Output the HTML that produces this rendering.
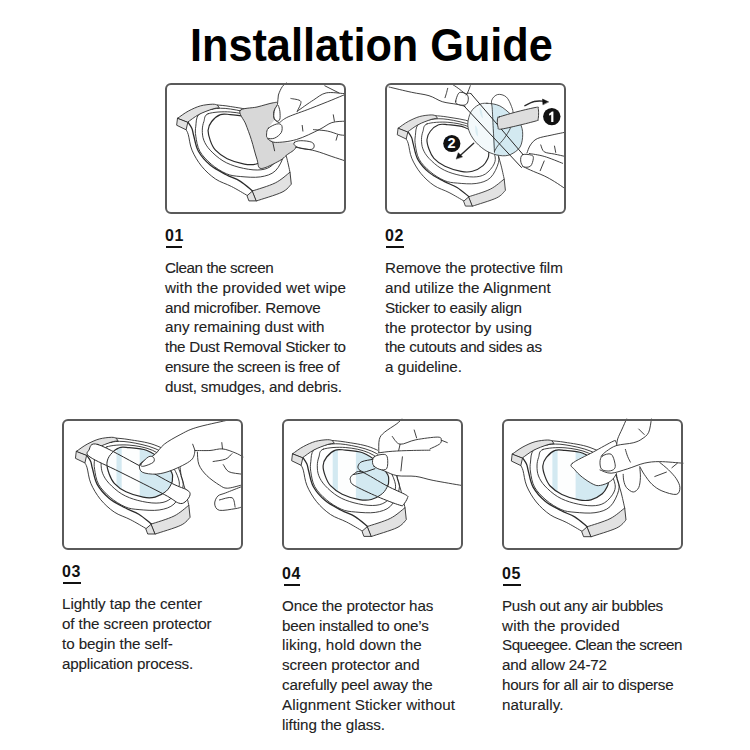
<!DOCTYPE html>
<html><head><meta charset="utf-8">
<style>
html,body{margin:0;padding:0;background:#fff;}
body{width:750px;height:750px;position:relative;overflow:hidden;font-family:"Liberation Sans",sans-serif;}
.title{position:absolute;left:190px;top:22px;font-size:46px;font-weight:bold;line-height:46px;white-space:nowrap;color:#000;transform:scaleX(0.94);transform-origin:0 0;}
.box{position:absolute;z-index:2;width:181px;height:131px;box-sizing:border-box;border:2px solid #5a5a5a;border-radius:6px;}
.num{position:absolute;font-size:16px;font-weight:bold;line-height:16px;color:#111;letter-spacing:0.5px;white-space:nowrap;}
.ul{position:absolute;height:2px;background:#111;}
.txt{position:absolute;font-size:15.2px;line-height:19.8px;color:#222;white-space:nowrap;-webkit-text-stroke:0.1px #222;}
svg.art{position:absolute;left:0;top:0;z-index:1;}
</style></head><body>
<div class="title">Installation Guide</div>

<div class="box" style="left:165px;top:83px"></div>
<div class="box" style="left:385px;top:83px"></div>
<div class="box" style="left:62px;top:419px"></div>
<div class="box" style="left:282px;top:419px"></div>
<div class="box" style="left:502px;top:419px"></div>

<div class="num" style="left:165px;top:228px">01</div>
<div class="ul" style="left:166px;top:246px;width:16px"></div>
<div class="num" style="left:385px;top:228px">02</div>
<div class="ul" style="left:386px;top:246px;width:17.5px"></div>
<div class="num" style="left:62px;top:564px">03</div>
<div class="ul" style="left:63px;top:581.5px;width:17.5px"></div>
<div class="num" style="left:282px;top:565.5px">04</div>
<div class="ul" style="left:283.5px;top:584px;width:16.5px"></div>
<div class="num" style="left:502px;top:565.5px">05</div>
<div class="ul" style="left:503px;top:584px;width:18px"></div>

<div class="txt" style="left:165px;top:258.03px"><span style="letter-spacing:-0.413px">Clean the screen</span><br><span style="letter-spacing:0.112px">with the provided wet wipe</span><br><span style="letter-spacing:-0.219px">and microfiber. Remove</span><br><span style="letter-spacing:-0.005px">any remaining dust with</span><br><span style="letter-spacing:-0.277px">the Dust Removal Sticker to</span><br><span style="letter-spacing:-0.348px">ensure the screen is free of</span><br><span style="letter-spacing:-0.220px">dust, smudges, and debris.</span></div>
<div class="txt" style="left:385px;top:258.13px"><span style="letter-spacing:-0.080px">Remove the protective film</span><br><span style="letter-spacing:0.050px">and utilize the Alignment</span><br><span style="letter-spacing:-0.264px">Sticker to easily align</span><br><span style="letter-spacing:0.038px">the protector by using</span><br><span style="letter-spacing:-0.291px">the cutouts and sides as</span><br><span style="letter-spacing:-0.073px">a guideline.</span></div>
<div class="txt" style="left:62px;top:594.23px"><span style="letter-spacing:-0.048px">Lightly tap the center</span><br><span style="letter-spacing:-0.105px">of the screen protector</span><br><span style="letter-spacing:-0.082px">to begin the self-</span><br><span style="letter-spacing:-0.158px">application process.</span></div>
<div class="txt" style="left:282px;top:595.73px"><span style="letter-spacing:-0.152px">Once the protector has</span><br><span style="letter-spacing:-0.182px">been installed to one’s</span><br><span style="letter-spacing:0.100px">liking, hold down the</span><br><span style="letter-spacing:-0.089px">screen protector and</span><br><span style="letter-spacing:-0.173px">carefully peel away the</span><br><span style="letter-spacing:0.104px">Alignment Sticker without</span><br><span style="letter-spacing:-0.100px">lifting the glass.</span></div>
<div class="txt" style="left:502px;top:595.83px"><span style="letter-spacing:-0.261px">Push out any air bubbles</span><br><span style="letter-spacing:0.175px">with the provided</span><br><span style="letter-spacing:-0.480px">Squeegee. Clean the screen</span><br><span style="letter-spacing:-0.157px">and allow 24-72</span><br><span style="letter-spacing:-0.261px">hours for all air to disperse</span><br><span style="letter-spacing:0.111px">naturally.</span></div>

<svg class="art" width="750" height="750" viewBox="0 0 750 750" fill="none" stroke="#2b2b2b" stroke-width="0.9" stroke-linejoin="round" stroke-linecap="round">
<g transform="translate(-84.9,-300) scale(0.943)">
<path d="M512.6 453.9C514.5 451.5 519.2 448.9 523.0 446.9C526.8 444.9 531.1 442.8 535.1 441.7C539.1 440.6 544.5 440.1 547.3 440.0C550.1 439.9 549.0 440.4 552.0 440.8C555.0 441.2 558.7 441.2 565.0 442.3C571.3 443.4 582.2 444.6 590.0 447.5C597.8 450.4 607.5 454.9 612.0 460.0C616.5 465.1 615.5 472.7 617.0 478.0C618.5 483.3 619.7 487.0 621.0 492.0C622.3 497.0 623.9 503.3 624.7 508.0C625.5 512.7 627.3 516.7 626.0 520.0C624.7 523.3 622.5 525.2 616.7 528.0C610.9 530.8 596.8 535.2 591.3 536.7C585.8 538.2 585.5 537.6 584.0 536.7C582.5 535.8 585.0 533.7 582.0 531.3C579.0 528.9 571.5 525.0 566.2 522.3C560.9 519.5 555.2 518.2 550.2 514.8C545.2 511.4 540.2 506.8 536.3 502.0C532.4 497.2 528.9 491.2 526.7 486.0C524.5 480.8 524.0 473.9 523.0 470.5C522.0 467.1 522.7 467.2 520.8 465.6C518.9 464.1 513.1 463.1 511.7 461.2C510.3 459.2 510.7 456.3 512.6 453.9Z" fill="#fff" stroke="none"/>
<path d="M555.1 450.4C558.2 449.2 560.5 450.0 565.0 450.4C569.5 450.8 576.8 450.9 582.3 453.0C587.8 455.1 593.8 459.3 598.0 463.0C602.2 466.7 605.8 471.9 607.5 475.0C609.2 478.1 608.3 479.8 608.3 481.6C608.3 483.4 608.5 483.9 607.5 485.9C606.5 487.9 605.0 491.4 602.3 493.7C599.5 496.0 594.9 498.8 591.0 499.8C587.1 500.8 583.9 500.8 579.0 499.9C574.1 499.0 566.7 496.8 561.9 494.5C557.1 492.2 553.0 489.0 550.2 486.0C547.4 483.0 546.2 479.7 545.0 476.4C543.8 473.1 542.6 469.2 542.8 466.0C543.0 462.8 544.3 459.9 546.4 457.3C548.5 454.7 552.0 451.5 555.1 450.4Z" stroke-width="1.2"/>
<path d="M542.9 449.5C547.3 447.9 557.4 447.2 565.0 447.8C572.6 448.4 581.6 450.0 588.4 453.0C595.2 456.0 601.7 461.2 606.0 466.0C610.3 470.8 613.1 477.3 614.4 481.6C615.7 485.9 615.6 488.5 614.0 492.0C612.4 495.5 608.4 500.4 604.7 502.7C601.0 505.0 597.2 505.7 592.0 505.8C586.8 505.9 579.4 504.6 573.7 503.1C568.0 501.6 562.5 499.6 557.7 496.7C552.9 493.8 548.1 489.4 544.9 486.0C541.7 482.6 539.8 479.3 538.5 476.0C537.2 472.7 537.0 469.1 537.0 466.0C537.0 462.9 537.6 460.1 538.6 457.3C539.6 454.6 538.5 451.1 542.9 449.5Z"/>
<path d="M547.3 444.8C552.6 443.9 557.7 443.7 565.0 444.8C572.3 445.9 583.5 448.1 591.0 451.3C598.5 454.5 605.7 459.5 610.0 464.0C614.3 468.5 615.5 473.7 617.0 478.1C618.5 482.5 619.9 485.5 618.7 490.3C617.5 495.1 614.0 503.0 610.0 506.7C606.0 510.4 600.8 511.8 595.0 512.7C589.2 513.6 580.7 512.8 575.0 512.3C569.3 511.8 565.8 511.6 561.0 509.5C556.2 507.4 550.4 503.8 546.0 500.0C541.6 496.2 537.1 491.7 534.5 487.0C531.9 482.3 531.2 476.2 530.5 472.0C529.8 467.8 530.0 465.6 530.5 462.0C531.0 458.4 530.6 453.3 533.4 450.4C536.2 447.5 542.0 445.7 547.3 444.8Z"/>
<path d="M552.0 440.8C554.2 441.1 558.7 441.2 565.0 442.3C571.3 443.4 582.2 444.6 590.0 447.5C597.8 450.4 607.5 454.9 612.0 460.0C616.5 465.1 616.2 475.0 617.0 478.0"/>
<path d="M617.0 479.0C617.7 481.2 619.7 487.2 621.0 492.0C622.3 496.8 624.1 505.3 624.7 508.0"/>
<path d="M520.8 465.6C521.2 466.4 522.0 467.1 523.0 470.5C524.0 473.9 524.5 480.8 526.7 486.0C528.9 491.2 532.4 497.2 536.3 502.0C540.2 506.8 545.2 511.4 550.2 514.8C555.2 518.2 560.9 519.5 566.2 522.3C571.5 525.0 579.4 529.8 582.0 531.3"/>
<path d="M522.6 457.8C523.2 458.8 525.5 461.8 526.5 464.0C527.5 466.2 527.2 467.1 528.3 471.0C529.4 474.9 530.3 482.1 533.1 487.1C535.9 492.1 540.3 497.0 544.9 500.9C549.5 504.8 555.9 507.8 560.9 510.5C565.9 513.2 570.3 514.2 574.7 516.9C579.1 519.6 585.2 525.1 587.3 526.7" stroke-width="1.3"/>
<path d="M512.6 453.9L522.6 457.8L520.8 465.6L511.7 461.2Z" fill="#e2e2e2"/>
<path d="M512.6 453.9C514.3 452.7 519.2 448.9 523.0 446.9C526.8 444.9 531.1 442.8 535.1 441.7C539.1 440.6 544.5 440.1 547.3 440.0C550.1 439.9 551.2 440.7 552.0 440.8L554.0 443.6C552.9 443.8 550.7 443.7 547.3 444.8C543.9 445.9 537.5 448.2 533.4 450.4C529.3 452.6 524.4 456.6 522.6 457.8Z" fill="#e2e2e2"/>
<path d="M582.0 531.3L587.3 526.7L591.3 536.7L584.0 536.7Z" fill="#e2e2e2"/>
<path d="M587.3 526.7C591.1 525.4 603.8 521.8 610.0 518.7C616.2 515.6 622.2 509.8 624.7 508.0L626.0 520.0C624.5 521.3 622.5 525.2 616.7 528.0C610.9 530.8 595.5 535.2 591.3 536.7Z" fill="#e2e2e2"/>
</g>
<g transform="translate(-334.7,-335.8)">
<path d="M512.6 453.9C514.5 451.5 519.2 448.9 523.0 446.9C526.8 444.9 531.1 442.8 535.1 441.7C539.1 440.6 544.5 440.1 547.3 440.0C550.1 439.9 549.0 440.4 552.0 440.8C555.0 441.2 558.7 441.2 565.0 442.3C571.3 443.4 582.2 444.6 590.0 447.5C597.8 450.4 607.5 454.9 612.0 460.0C616.5 465.1 615.5 472.7 617.0 478.0C618.5 483.3 619.7 487.0 621.0 492.0C622.3 497.0 623.9 503.3 624.7 508.0C625.5 512.7 627.3 516.7 626.0 520.0C624.7 523.3 622.5 525.2 616.7 528.0C610.9 530.8 596.8 535.2 591.3 536.7C585.8 538.2 585.5 537.6 584.0 536.7C582.5 535.8 585.0 533.7 582.0 531.3C579.0 528.9 571.5 525.0 566.2 522.3C560.9 519.5 555.2 518.2 550.2 514.8C545.2 511.4 540.2 506.8 536.3 502.0C532.4 497.2 528.9 491.2 526.7 486.0C524.5 480.8 524.0 473.9 523.0 470.5C522.0 467.1 522.7 467.2 520.8 465.6C518.9 464.1 513.1 463.1 511.7 461.2C510.3 459.2 510.7 456.3 512.6 453.9Z" fill="#fff" stroke="none"/>
<path d="M555.1 450.4C558.2 449.2 560.5 450.0 565.0 450.4C569.5 450.8 576.8 450.9 582.3 453.0C587.8 455.1 593.8 459.3 598.0 463.0C602.2 466.7 605.8 471.9 607.5 475.0C609.2 478.1 608.3 479.8 608.3 481.6C608.3 483.4 608.5 483.9 607.5 485.9C606.5 487.9 605.0 491.4 602.3 493.7C599.5 496.0 594.9 498.8 591.0 499.8C587.1 500.8 583.9 500.8 579.0 499.9C574.1 499.0 566.7 496.8 561.9 494.5C557.1 492.2 553.0 489.0 550.2 486.0C547.4 483.0 546.2 479.7 545.0 476.4C543.8 473.1 542.6 469.2 542.8 466.0C543.0 462.8 544.3 459.9 546.4 457.3C548.5 454.7 552.0 451.5 555.1 450.4Z" stroke-width="1.2"/>
<path d="M542.9 449.5C547.3 447.9 557.4 447.2 565.0 447.8C572.6 448.4 581.6 450.0 588.4 453.0C595.2 456.0 601.7 461.2 606.0 466.0C610.3 470.8 613.1 477.3 614.4 481.6C615.7 485.9 615.6 488.5 614.0 492.0C612.4 495.5 608.4 500.4 604.7 502.7C601.0 505.0 597.2 505.7 592.0 505.8C586.8 505.9 579.4 504.6 573.7 503.1C568.0 501.6 562.5 499.6 557.7 496.7C552.9 493.8 548.1 489.4 544.9 486.0C541.7 482.6 539.8 479.3 538.5 476.0C537.2 472.7 537.0 469.1 537.0 466.0C537.0 462.9 537.6 460.1 538.6 457.3C539.6 454.6 538.5 451.1 542.9 449.5Z"/>
<path d="M547.3 444.8C552.6 443.9 557.7 443.7 565.0 444.8C572.3 445.9 583.5 448.1 591.0 451.3C598.5 454.5 605.7 459.5 610.0 464.0C614.3 468.5 615.5 473.7 617.0 478.1C618.5 482.5 619.9 485.5 618.7 490.3C617.5 495.1 614.0 503.0 610.0 506.7C606.0 510.4 600.8 511.8 595.0 512.7C589.2 513.6 580.7 512.8 575.0 512.3C569.3 511.8 565.8 511.6 561.0 509.5C556.2 507.4 550.4 503.8 546.0 500.0C541.6 496.2 537.1 491.7 534.5 487.0C531.9 482.3 531.2 476.2 530.5 472.0C529.8 467.8 530.0 465.6 530.5 462.0C531.0 458.4 530.6 453.3 533.4 450.4C536.2 447.5 542.0 445.7 547.3 444.8Z"/>
<path d="M552.0 440.8C554.2 441.1 558.7 441.2 565.0 442.3C571.3 443.4 582.2 444.6 590.0 447.5C597.8 450.4 607.5 454.9 612.0 460.0C616.5 465.1 616.2 475.0 617.0 478.0"/>
<path d="M617.0 479.0C617.7 481.2 619.7 487.2 621.0 492.0C622.3 496.8 624.1 505.3 624.7 508.0"/>
<path d="M520.8 465.6C521.2 466.4 522.0 467.1 523.0 470.5C524.0 473.9 524.5 480.8 526.7 486.0C528.9 491.2 532.4 497.2 536.3 502.0C540.2 506.8 545.2 511.4 550.2 514.8C555.2 518.2 560.9 519.5 566.2 522.3C571.5 525.0 579.4 529.8 582.0 531.3"/>
<path d="M522.6 457.8C523.2 458.8 525.5 461.8 526.5 464.0C527.5 466.2 527.2 467.1 528.3 471.0C529.4 474.9 530.3 482.1 533.1 487.1C535.9 492.1 540.3 497.0 544.9 500.9C549.5 504.8 555.9 507.8 560.9 510.5C565.9 513.2 570.3 514.2 574.7 516.9C579.1 519.6 585.2 525.1 587.3 526.7" stroke-width="1.3"/>
<path d="M512.6 453.9L522.6 457.8L520.8 465.6L511.7 461.2Z" fill="#e2e2e2"/>
<path d="M512.6 453.9C514.3 452.7 519.2 448.9 523.0 446.9C526.8 444.9 531.1 442.8 535.1 441.7C539.1 440.6 544.5 440.1 547.3 440.0C550.1 439.9 551.2 440.7 552.0 440.8L554.0 443.6C552.9 443.8 550.7 443.7 547.3 444.8C543.9 445.9 537.5 448.2 533.4 450.4C529.3 452.6 524.4 456.6 522.6 457.8Z" fill="#e2e2e2"/>
<path d="M582.0 531.3L587.3 526.7L591.3 536.7L584.0 536.7Z" fill="#e2e2e2"/>
<path d="M587.3 526.7C591.1 525.4 603.8 521.8 610.0 518.7C616.2 515.6 622.2 509.8 624.7 508.0L626.0 520.0C624.5 521.3 622.5 525.2 616.7 528.0C610.9 530.8 595.5 535.2 591.3 536.7Z" fill="#e2e2e2"/>
</g>
<g transform="translate(-435.9,-2.7)">
<path d="M512.6 453.9C514.5 451.5 519.2 448.9 523.0 446.9C526.8 444.9 531.1 442.8 535.1 441.7C539.1 440.6 544.5 440.1 547.3 440.0C550.1 439.9 549.0 440.4 552.0 440.8C555.0 441.2 558.7 441.2 565.0 442.3C571.3 443.4 582.2 444.6 590.0 447.5C597.8 450.4 607.5 454.9 612.0 460.0C616.5 465.1 615.5 472.7 617.0 478.0C618.5 483.3 619.7 487.0 621.0 492.0C622.3 497.0 623.9 503.3 624.7 508.0C625.5 512.7 627.3 516.7 626.0 520.0C624.7 523.3 622.5 525.2 616.7 528.0C610.9 530.8 596.8 535.2 591.3 536.7C585.8 538.2 585.5 537.6 584.0 536.7C582.5 535.8 585.0 533.7 582.0 531.3C579.0 528.9 571.5 525.0 566.2 522.3C560.9 519.5 555.2 518.2 550.2 514.8C545.2 511.4 540.2 506.8 536.3 502.0C532.4 497.2 528.9 491.2 526.7 486.0C524.5 480.8 524.0 473.9 523.0 470.5C522.0 467.1 522.7 467.2 520.8 465.6C518.9 464.1 513.1 463.1 511.7 461.2C510.3 459.2 510.7 456.3 512.6 453.9Z" fill="#fff" stroke="none"/>
<clipPath id="scr1"><path d="M555.1 450.4C558.2 449.2 560.5 450.0 565.0 450.4C569.5 450.8 576.8 450.9 582.3 453.0C587.8 455.1 593.8 459.3 598.0 463.0C602.2 466.7 605.8 471.9 607.5 475.0C609.2 478.1 608.3 479.8 608.3 481.6C608.3 483.4 608.5 483.9 607.5 485.9C606.5 487.9 605.0 491.4 602.3 493.7C599.5 496.0 594.9 498.8 591.0 499.8C587.1 500.8 583.9 500.8 579.0 499.9C574.1 499.0 566.7 496.8 561.9 494.5C557.1 492.2 553.0 489.0 550.2 486.0C547.4 483.0 546.2 479.7 545.0 476.4C543.8 473.1 542.6 469.2 542.8 466.0C543.0 462.8 544.3 459.9 546.4 457.3C548.5 454.7 552.0 451.5 555.1 450.4Z"/></clipPath><path d="M555.1 450.4C558.2 449.2 560.5 450.0 565.0 450.4C569.5 450.8 576.8 450.9 582.3 453.0C587.8 455.1 593.8 459.3 598.0 463.0C602.2 466.7 605.8 471.9 607.5 475.0C609.2 478.1 608.3 479.8 608.3 481.6C608.3 483.4 608.5 483.9 607.5 485.9C606.5 487.9 605.0 491.4 602.3 493.7C599.5 496.0 594.9 498.8 591.0 499.8C587.1 500.8 583.9 500.8 579.0 499.9C574.1 499.0 566.7 496.8 561.9 494.5C557.1 492.2 553.0 489.0 550.2 486.0C547.4 483.0 546.2 479.7 545.0 476.4C543.8 473.1 542.6 469.2 542.8 466.0C543.0 462.8 544.3 459.9 546.4 457.3C548.5 454.7 552.0 451.5 555.1 450.4Z" fill="#d3e9f1" stroke="none"/><g clip-path="url(#scr1)"><rect x="540" y="440" width="12.4" height="70" fill="#fbfdfe" stroke="none"/><rect x="557.6" y="440" width="18" height="70" fill="#fdfefe" stroke="none"/></g>
<path d="M555.1 450.4C558.2 449.2 560.5 450.0 565.0 450.4C569.5 450.8 576.8 450.9 582.3 453.0C587.8 455.1 593.8 459.3 598.0 463.0C602.2 466.7 605.8 471.9 607.5 475.0C609.2 478.1 608.3 479.8 608.3 481.6C608.3 483.4 608.5 483.9 607.5 485.9C606.5 487.9 605.0 491.4 602.3 493.7C599.5 496.0 594.9 498.8 591.0 499.8C587.1 500.8 583.9 500.8 579.0 499.9C574.1 499.0 566.7 496.8 561.9 494.5C557.1 492.2 553.0 489.0 550.2 486.0C547.4 483.0 546.2 479.7 545.0 476.4C543.8 473.1 542.6 469.2 542.8 466.0C543.0 462.8 544.3 459.9 546.4 457.3C548.5 454.7 552.0 451.5 555.1 450.4Z" stroke-width="1.2"/>
<path d="M542.9 449.5C547.3 447.9 557.4 447.2 565.0 447.8C572.6 448.4 581.6 450.0 588.4 453.0C595.2 456.0 601.7 461.2 606.0 466.0C610.3 470.8 613.1 477.3 614.4 481.6C615.7 485.9 615.6 488.5 614.0 492.0C612.4 495.5 608.4 500.4 604.7 502.7C601.0 505.0 597.2 505.7 592.0 505.8C586.8 505.9 579.4 504.6 573.7 503.1C568.0 501.6 562.5 499.6 557.7 496.7C552.9 493.8 548.1 489.4 544.9 486.0C541.7 482.6 539.8 479.3 538.5 476.0C537.2 472.7 537.0 469.1 537.0 466.0C537.0 462.9 537.6 460.1 538.6 457.3C539.6 454.6 538.5 451.1 542.9 449.5Z"/>
<path d="M547.3 444.8C552.6 443.9 557.7 443.7 565.0 444.8C572.3 445.9 583.5 448.1 591.0 451.3C598.5 454.5 605.7 459.5 610.0 464.0C614.3 468.5 615.5 473.7 617.0 478.1C618.5 482.5 619.9 485.5 618.7 490.3C617.5 495.1 614.0 503.0 610.0 506.7C606.0 510.4 600.8 511.8 595.0 512.7C589.2 513.6 580.7 512.8 575.0 512.3C569.3 511.8 565.8 511.6 561.0 509.5C556.2 507.4 550.4 503.8 546.0 500.0C541.6 496.2 537.1 491.7 534.5 487.0C531.9 482.3 531.2 476.2 530.5 472.0C529.8 467.8 530.0 465.6 530.5 462.0C531.0 458.4 530.6 453.3 533.4 450.4C536.2 447.5 542.0 445.7 547.3 444.8Z"/>
<path d="M552.0 440.8C554.2 441.1 558.7 441.2 565.0 442.3C571.3 443.4 582.2 444.6 590.0 447.5C597.8 450.4 607.5 454.9 612.0 460.0C616.5 465.1 616.2 475.0 617.0 478.0"/>
<path d="M617.0 479.0C617.7 481.2 619.7 487.2 621.0 492.0C622.3 496.8 624.1 505.3 624.7 508.0"/>
<path d="M520.8 465.6C521.2 466.4 522.0 467.1 523.0 470.5C524.0 473.9 524.5 480.8 526.7 486.0C528.9 491.2 532.4 497.2 536.3 502.0C540.2 506.8 545.2 511.4 550.2 514.8C555.2 518.2 560.9 519.5 566.2 522.3C571.5 525.0 579.4 529.8 582.0 531.3"/>
<path d="M522.6 457.8C523.2 458.8 525.5 461.8 526.5 464.0C527.5 466.2 527.2 467.1 528.3 471.0C529.4 474.9 530.3 482.1 533.1 487.1C535.9 492.1 540.3 497.0 544.9 500.9C549.5 504.8 555.9 507.8 560.9 510.5C565.9 513.2 570.3 514.2 574.7 516.9C579.1 519.6 585.2 525.1 587.3 526.7" stroke-width="1.3"/>
<path d="M512.6 453.9L522.6 457.8L520.8 465.6L511.7 461.2Z" fill="#e2e2e2"/>
<path d="M512.6 453.9C514.3 452.7 519.2 448.9 523.0 446.9C526.8 444.9 531.1 442.8 535.1 441.7C539.1 440.6 544.5 440.1 547.3 440.0C550.1 439.9 551.2 440.7 552.0 440.8L554.0 443.6C552.9 443.8 550.7 443.7 547.3 444.8C543.9 445.9 537.5 448.2 533.4 450.4C529.3 452.6 524.4 456.6 522.6 457.8Z" fill="#e2e2e2"/>
<path d="M582.0 531.3L587.3 526.7L591.3 536.7L584.0 536.7Z" fill="#e2e2e2"/>
<path d="M587.3 526.7C591.1 525.4 603.8 521.8 610.0 518.7C616.2 515.6 622.2 509.8 624.7 508.0L626.0 520.0C624.5 521.3 622.5 525.2 616.7 528.0C610.9 530.8 595.5 535.2 591.3 536.7Z" fill="#e2e2e2"/>
</g>
<g transform="translate(-219.7,-0.3)">
<path d="M512.6 453.9C514.5 451.5 519.2 448.9 523.0 446.9C526.8 444.9 531.1 442.8 535.1 441.7C539.1 440.6 544.5 440.1 547.3 440.0C550.1 439.9 549.0 440.4 552.0 440.8C555.0 441.2 558.7 441.2 565.0 442.3C571.3 443.4 582.2 444.6 590.0 447.5C597.8 450.4 607.5 454.9 612.0 460.0C616.5 465.1 615.5 472.7 617.0 478.0C618.5 483.3 619.7 487.0 621.0 492.0C622.3 497.0 623.9 503.3 624.7 508.0C625.5 512.7 627.3 516.7 626.0 520.0C624.7 523.3 622.5 525.2 616.7 528.0C610.9 530.8 596.8 535.2 591.3 536.7C585.8 538.2 585.5 537.6 584.0 536.7C582.5 535.8 585.0 533.7 582.0 531.3C579.0 528.9 571.5 525.0 566.2 522.3C560.9 519.5 555.2 518.2 550.2 514.8C545.2 511.4 540.2 506.8 536.3 502.0C532.4 497.2 528.9 491.2 526.7 486.0C524.5 480.8 524.0 473.9 523.0 470.5C522.0 467.1 522.7 467.2 520.8 465.6C518.9 464.1 513.1 463.1 511.7 461.2C510.3 459.2 510.7 456.3 512.6 453.9Z" fill="#fff" stroke="none"/>
<clipPath id="scr2"><path d="M555.1 450.4C558.2 449.2 560.5 450.0 565.0 450.4C569.5 450.8 576.8 450.9 582.3 453.0C587.8 455.1 593.8 459.3 598.0 463.0C602.2 466.7 605.8 471.9 607.5 475.0C609.2 478.1 608.3 479.8 608.3 481.6C608.3 483.4 608.5 483.9 607.5 485.9C606.5 487.9 605.0 491.4 602.3 493.7C599.5 496.0 594.9 498.8 591.0 499.8C587.1 500.8 583.9 500.8 579.0 499.9C574.1 499.0 566.7 496.8 561.9 494.5C557.1 492.2 553.0 489.0 550.2 486.0C547.4 483.0 546.2 479.7 545.0 476.4C543.8 473.1 542.6 469.2 542.8 466.0C543.0 462.8 544.3 459.9 546.4 457.3C548.5 454.7 552.0 451.5 555.1 450.4Z"/></clipPath><path d="M555.1 450.4C558.2 449.2 560.5 450.0 565.0 450.4C569.5 450.8 576.8 450.9 582.3 453.0C587.8 455.1 593.8 459.3 598.0 463.0C602.2 466.7 605.8 471.9 607.5 475.0C609.2 478.1 608.3 479.8 608.3 481.6C608.3 483.4 608.5 483.9 607.5 485.9C606.5 487.9 605.0 491.4 602.3 493.7C599.5 496.0 594.9 498.8 591.0 499.8C587.1 500.8 583.9 500.8 579.0 499.9C574.1 499.0 566.7 496.8 561.9 494.5C557.1 492.2 553.0 489.0 550.2 486.0C547.4 483.0 546.2 479.7 545.0 476.4C543.8 473.1 542.6 469.2 542.8 466.0C543.0 462.8 544.3 459.9 546.4 457.3C548.5 454.7 552.0 451.5 555.1 450.4Z" fill="#d3e9f1" stroke="none"/><g clip-path="url(#scr2)"><rect x="540" y="440" width="12.4" height="70" fill="#fbfdfe" stroke="none"/><rect x="557.6" y="440" width="18" height="70" fill="#fdfefe" stroke="none"/></g>
<path d="M555.1 450.4C558.2 449.2 560.5 450.0 565.0 450.4C569.5 450.8 576.8 450.9 582.3 453.0C587.8 455.1 593.8 459.3 598.0 463.0C602.2 466.7 605.8 471.9 607.5 475.0C609.2 478.1 608.3 479.8 608.3 481.6C608.3 483.4 608.5 483.9 607.5 485.9C606.5 487.9 605.0 491.4 602.3 493.7C599.5 496.0 594.9 498.8 591.0 499.8C587.1 500.8 583.9 500.8 579.0 499.9C574.1 499.0 566.7 496.8 561.9 494.5C557.1 492.2 553.0 489.0 550.2 486.0C547.4 483.0 546.2 479.7 545.0 476.4C543.8 473.1 542.6 469.2 542.8 466.0C543.0 462.8 544.3 459.9 546.4 457.3C548.5 454.7 552.0 451.5 555.1 450.4Z" stroke-width="1.2"/>
<path d="M542.9 449.5C547.3 447.9 557.4 447.2 565.0 447.8C572.6 448.4 581.6 450.0 588.4 453.0C595.2 456.0 601.7 461.2 606.0 466.0C610.3 470.8 613.1 477.3 614.4 481.6C615.7 485.9 615.6 488.5 614.0 492.0C612.4 495.5 608.4 500.4 604.7 502.7C601.0 505.0 597.2 505.7 592.0 505.8C586.8 505.9 579.4 504.6 573.7 503.1C568.0 501.6 562.5 499.6 557.7 496.7C552.9 493.8 548.1 489.4 544.9 486.0C541.7 482.6 539.8 479.3 538.5 476.0C537.2 472.7 537.0 469.1 537.0 466.0C537.0 462.9 537.6 460.1 538.6 457.3C539.6 454.6 538.5 451.1 542.9 449.5Z"/>
<path d="M547.3 444.8C552.6 443.9 557.7 443.7 565.0 444.8C572.3 445.9 583.5 448.1 591.0 451.3C598.5 454.5 605.7 459.5 610.0 464.0C614.3 468.5 615.5 473.7 617.0 478.1C618.5 482.5 619.9 485.5 618.7 490.3C617.5 495.1 614.0 503.0 610.0 506.7C606.0 510.4 600.8 511.8 595.0 512.7C589.2 513.6 580.7 512.8 575.0 512.3C569.3 511.8 565.8 511.6 561.0 509.5C556.2 507.4 550.4 503.8 546.0 500.0C541.6 496.2 537.1 491.7 534.5 487.0C531.9 482.3 531.2 476.2 530.5 472.0C529.8 467.8 530.0 465.6 530.5 462.0C531.0 458.4 530.6 453.3 533.4 450.4C536.2 447.5 542.0 445.7 547.3 444.8Z"/>
<path d="M552.0 440.8C554.2 441.1 558.7 441.2 565.0 442.3C571.3 443.4 582.2 444.6 590.0 447.5C597.8 450.4 607.5 454.9 612.0 460.0C616.5 465.1 616.2 475.0 617.0 478.0"/>
<path d="M617.0 479.0C617.7 481.2 619.7 487.2 621.0 492.0C622.3 496.8 624.1 505.3 624.7 508.0"/>
<path d="M520.8 465.6C521.2 466.4 522.0 467.1 523.0 470.5C524.0 473.9 524.5 480.8 526.7 486.0C528.9 491.2 532.4 497.2 536.3 502.0C540.2 506.8 545.2 511.4 550.2 514.8C555.2 518.2 560.9 519.5 566.2 522.3C571.5 525.0 579.4 529.8 582.0 531.3"/>
<path d="M522.6 457.8C523.2 458.8 525.5 461.8 526.5 464.0C527.5 466.2 527.2 467.1 528.3 471.0C529.4 474.9 530.3 482.1 533.1 487.1C535.9 492.1 540.3 497.0 544.9 500.9C549.5 504.8 555.9 507.8 560.9 510.5C565.9 513.2 570.3 514.2 574.7 516.9C579.1 519.6 585.2 525.1 587.3 526.7" stroke-width="1.3"/>
<path d="M512.6 453.9L522.6 457.8L520.8 465.6L511.7 461.2Z" fill="#e2e2e2"/>
<path d="M512.6 453.9C514.3 452.7 519.2 448.9 523.0 446.9C526.8 444.9 531.1 442.8 535.1 441.7C539.1 440.6 544.5 440.1 547.3 440.0C550.1 439.9 551.2 440.7 552.0 440.8L554.0 443.6C552.9 443.8 550.7 443.7 547.3 444.8C543.9 445.9 537.5 448.2 533.4 450.4C529.3 452.6 524.4 456.6 522.6 457.8Z" fill="#e2e2e2"/>
<path d="M582.0 531.3L587.3 526.7L591.3 536.7L584.0 536.7Z" fill="#e2e2e2"/>
<path d="M587.3 526.7C591.1 525.4 603.8 521.8 610.0 518.7C616.2 515.6 622.2 509.8 624.7 508.0L626.0 520.0C624.5 521.3 622.5 525.2 616.7 528.0C610.9 530.8 595.5 535.2 591.3 536.7Z" fill="#e2e2e2"/>
</g>
<g transform="translate(0,0)">
<path d="M512.6 453.9C514.5 451.5 519.2 448.9 523.0 446.9C526.8 444.9 531.1 442.8 535.1 441.7C539.1 440.6 544.5 440.1 547.3 440.0C550.1 439.9 549.0 440.4 552.0 440.8C555.0 441.2 558.7 441.2 565.0 442.3C571.3 443.4 582.2 444.6 590.0 447.5C597.8 450.4 607.5 454.9 612.0 460.0C616.5 465.1 615.5 472.7 617.0 478.0C618.5 483.3 619.7 487.0 621.0 492.0C622.3 497.0 623.9 503.3 624.7 508.0C625.5 512.7 627.3 516.7 626.0 520.0C624.7 523.3 622.5 525.2 616.7 528.0C610.9 530.8 596.8 535.2 591.3 536.7C585.8 538.2 585.5 537.6 584.0 536.7C582.5 535.8 585.0 533.7 582.0 531.3C579.0 528.9 571.5 525.0 566.2 522.3C560.9 519.5 555.2 518.2 550.2 514.8C545.2 511.4 540.2 506.8 536.3 502.0C532.4 497.2 528.9 491.2 526.7 486.0C524.5 480.8 524.0 473.9 523.0 470.5C522.0 467.1 522.7 467.2 520.8 465.6C518.9 464.1 513.1 463.1 511.7 461.2C510.3 459.2 510.7 456.3 512.6 453.9Z" fill="#fff" stroke="none"/>
<clipPath id="scr3"><path d="M555.1 450.4C558.2 449.2 560.5 450.0 565.0 450.4C569.5 450.8 576.8 450.9 582.3 453.0C587.8 455.1 593.8 459.3 598.0 463.0C602.2 466.7 605.8 471.9 607.5 475.0C609.2 478.1 608.3 479.8 608.3 481.6C608.3 483.4 608.5 483.9 607.5 485.9C606.5 487.9 605.0 491.4 602.3 493.7C599.5 496.0 594.9 498.8 591.0 499.8C587.1 500.8 583.9 500.8 579.0 499.9C574.1 499.0 566.7 496.8 561.9 494.5C557.1 492.2 553.0 489.0 550.2 486.0C547.4 483.0 546.2 479.7 545.0 476.4C543.8 473.1 542.6 469.2 542.8 466.0C543.0 462.8 544.3 459.9 546.4 457.3C548.5 454.7 552.0 451.5 555.1 450.4Z"/></clipPath><path d="M555.1 450.4C558.2 449.2 560.5 450.0 565.0 450.4C569.5 450.8 576.8 450.9 582.3 453.0C587.8 455.1 593.8 459.3 598.0 463.0C602.2 466.7 605.8 471.9 607.5 475.0C609.2 478.1 608.3 479.8 608.3 481.6C608.3 483.4 608.5 483.9 607.5 485.9C606.5 487.9 605.0 491.4 602.3 493.7C599.5 496.0 594.9 498.8 591.0 499.8C587.1 500.8 583.9 500.8 579.0 499.9C574.1 499.0 566.7 496.8 561.9 494.5C557.1 492.2 553.0 489.0 550.2 486.0C547.4 483.0 546.2 479.7 545.0 476.4C543.8 473.1 542.6 469.2 542.8 466.0C543.0 462.8 544.3 459.9 546.4 457.3C548.5 454.7 552.0 451.5 555.1 450.4Z" fill="#d3e9f1" stroke="none"/><g clip-path="url(#scr3)"><rect x="540" y="440" width="12.4" height="70" fill="#fbfdfe" stroke="none"/><rect x="557.6" y="440" width="18" height="70" fill="#fdfefe" stroke="none"/></g>
<path d="M555.1 450.4C558.2 449.2 560.5 450.0 565.0 450.4C569.5 450.8 576.8 450.9 582.3 453.0C587.8 455.1 593.8 459.3 598.0 463.0C602.2 466.7 605.8 471.9 607.5 475.0C609.2 478.1 608.3 479.8 608.3 481.6C608.3 483.4 608.5 483.9 607.5 485.9C606.5 487.9 605.0 491.4 602.3 493.7C599.5 496.0 594.9 498.8 591.0 499.8C587.1 500.8 583.9 500.8 579.0 499.9C574.1 499.0 566.7 496.8 561.9 494.5C557.1 492.2 553.0 489.0 550.2 486.0C547.4 483.0 546.2 479.7 545.0 476.4C543.8 473.1 542.6 469.2 542.8 466.0C543.0 462.8 544.3 459.9 546.4 457.3C548.5 454.7 552.0 451.5 555.1 450.4Z" stroke-width="1.2"/>
<path d="M542.9 449.5C547.3 447.9 557.4 447.2 565.0 447.8C572.6 448.4 581.6 450.0 588.4 453.0C595.2 456.0 601.7 461.2 606.0 466.0C610.3 470.8 613.1 477.3 614.4 481.6C615.7 485.9 615.6 488.5 614.0 492.0C612.4 495.5 608.4 500.4 604.7 502.7C601.0 505.0 597.2 505.7 592.0 505.8C586.8 505.9 579.4 504.6 573.7 503.1C568.0 501.6 562.5 499.6 557.7 496.7C552.9 493.8 548.1 489.4 544.9 486.0C541.7 482.6 539.8 479.3 538.5 476.0C537.2 472.7 537.0 469.1 537.0 466.0C537.0 462.9 537.6 460.1 538.6 457.3C539.6 454.6 538.5 451.1 542.9 449.5Z"/>
<path d="M547.3 444.8C552.6 443.9 557.7 443.7 565.0 444.8C572.3 445.9 583.5 448.1 591.0 451.3C598.5 454.5 605.7 459.5 610.0 464.0C614.3 468.5 615.5 473.7 617.0 478.1C618.5 482.5 619.9 485.5 618.7 490.3C617.5 495.1 614.0 503.0 610.0 506.7C606.0 510.4 600.8 511.8 595.0 512.7C589.2 513.6 580.7 512.8 575.0 512.3C569.3 511.8 565.8 511.6 561.0 509.5C556.2 507.4 550.4 503.8 546.0 500.0C541.6 496.2 537.1 491.7 534.5 487.0C531.9 482.3 531.2 476.2 530.5 472.0C529.8 467.8 530.0 465.6 530.5 462.0C531.0 458.4 530.6 453.3 533.4 450.4C536.2 447.5 542.0 445.7 547.3 444.8Z"/>
<path d="M552.0 440.8C554.2 441.1 558.7 441.2 565.0 442.3C571.3 443.4 582.2 444.6 590.0 447.5C597.8 450.4 607.5 454.9 612.0 460.0C616.5 465.1 616.2 475.0 617.0 478.0"/>
<path d="M617.0 479.0C617.7 481.2 619.7 487.2 621.0 492.0C622.3 496.8 624.1 505.3 624.7 508.0"/>
<path d="M520.8 465.6C521.2 466.4 522.0 467.1 523.0 470.5C524.0 473.9 524.5 480.8 526.7 486.0C528.9 491.2 532.4 497.2 536.3 502.0C540.2 506.8 545.2 511.4 550.2 514.8C555.2 518.2 560.9 519.5 566.2 522.3C571.5 525.0 579.4 529.8 582.0 531.3"/>
<path d="M522.6 457.8C523.2 458.8 525.5 461.8 526.5 464.0C527.5 466.2 527.2 467.1 528.3 471.0C529.4 474.9 530.3 482.1 533.1 487.1C535.9 492.1 540.3 497.0 544.9 500.9C549.5 504.8 555.9 507.8 560.9 510.5C565.9 513.2 570.3 514.2 574.7 516.9C579.1 519.6 585.2 525.1 587.3 526.7" stroke-width="1.3"/>
<path d="M512.6 453.9L522.6 457.8L520.8 465.6L511.7 461.2Z" fill="#e2e2e2"/>
<path d="M512.6 453.9C514.3 452.7 519.2 448.9 523.0 446.9C526.8 444.9 531.1 442.8 535.1 441.7C539.1 440.6 544.5 440.1 547.3 440.0C550.1 439.9 551.2 440.7 552.0 440.8L554.0 443.6C552.9 443.8 550.7 443.7 547.3 444.8C543.9 445.9 537.5 448.2 533.4 450.4C529.3 452.6 524.4 456.6 522.6 457.8Z" fill="#e2e2e2"/>
<path d="M582.0 531.3L587.3 526.7L591.3 536.7L584.0 536.7Z" fill="#e2e2e2"/>
<path d="M587.3 526.7C591.1 525.4 603.8 521.8 610.0 518.7C616.2 515.6 622.2 509.8 624.7 508.0L626.0 520.0C624.5 521.3 622.5 525.2 616.7 528.0C610.9 530.8 595.5 535.2 591.3 536.7Z" fill="#e2e2e2"/>
</g>
<path d="M487.0 103.3C490.6 103.4 495.7 104.0 499.8 105.9C503.9 107.9 508.2 112.1 511.5 115.0C514.9 117.9 518.2 120.3 520.1 123.5C521.9 126.7 522.7 130.3 522.7 134.2C522.7 138.1 522.1 143.6 520.1 147.0C518.0 150.4 513.8 153.0 510.5 154.5C507.1 155.9 503.7 156.1 499.8 155.5C495.9 155.0 490.9 153.4 487.0 151.3C483.1 149.1 479.2 145.8 476.3 142.7C473.5 139.7 471.4 136.3 469.9 133.1C468.5 129.9 467.6 127.1 467.8 123.5C468.0 120.0 469.2 114.9 471.0 111.8C472.8 108.7 475.8 106.3 478.5 104.9C481.1 103.4 483.4 103.1 487.0 103.3Z" fill="#f3f9fb" stroke="none"/>
<path d="M492.3 104.3C493.6 102.8 496.6 104.2 499.8 105.9C503.0 107.7 508.2 112.1 511.5 115.0C514.9 117.9 518.2 120.3 520.1 123.5C521.9 126.7 522.7 130.3 522.7 134.2C522.7 138.1 522.1 143.6 520.1 147.0C518.0 150.4 513.8 153.0 510.5 154.5C507.1 155.9 502.5 155.7 499.8 155.5C497.1 155.4 495.6 156.6 494.5 153.4C493.3 150.2 493.2 142.7 492.9 136.3C492.5 129.9 492.4 120.3 492.3 115.0C492.2 109.7 491.1 105.8 492.3 104.3Z" fill="#d3e9f1" stroke="none"/>
<path d="M479.5 107.5C479.7 106.8 481.1 109.0 481.7 110.7C482.2 112.5 483.1 117.5 482.9 118.2C482.8 118.9 481.2 116.8 480.6 115.0C480.0 113.2 479.4 108.2 479.5 107.5Z" fill="#d9ecf2" stroke="none"/>
<path d="M475.3 125.7C475.5 125.0 477.0 127.1 477.4 128.9C477.8 130.6 478.2 135.6 477.9 136.3C477.7 137.0 476.2 134.9 475.8 133.1C475.4 131.4 475.0 126.4 475.3 125.7Z" fill="#d9ecf2" stroke="none"/>
<path d="M487.0 103.3C490.6 103.4 495.7 104.0 499.8 105.9C503.9 107.9 508.2 112.1 511.5 115.0C514.9 117.9 518.2 120.3 520.1 123.5C521.9 126.7 522.7 130.3 522.7 134.2C522.7 138.1 522.1 143.6 520.1 147.0C518.0 150.4 513.8 153.0 510.5 154.5C507.1 155.9 503.7 156.1 499.8 155.5C495.9 155.0 490.9 153.4 487.0 151.3C483.1 149.1 479.2 145.8 476.3 142.7C473.5 139.7 471.4 136.3 469.9 133.1C468.5 129.9 467.6 127.1 467.8 123.5C468.0 120.0 469.2 114.9 471.0 111.8C472.8 108.7 475.8 106.3 478.5 104.9C481.1 103.4 483.4 103.1 487.0 103.3Z" stroke-width="0.8"/>
<path d="M494.5 152.3C494.3 148.8 493.8 138.1 493.4 131.0C493.0 123.9 492.6 114.8 492.3 109.7C492.1 104.5 490.9 102.6 491.8 100.1C492.7 97.5 495.3 95.1 497.7 94.5C500.1 94.0 503.9 94.9 506.2 96.9C508.5 98.9 510.4 103.4 511.5 106.5C512.7 109.5 513.3 111.4 513.1 115.0C513.0 118.6 512.0 123.9 510.5 127.8C509.0 131.7 506.2 135.4 504.1 138.5C501.9 141.5 499.3 143.8 497.7 145.9C496.1 148.1 495.0 150.4 494.5 151.3" stroke-width="0.8"/>
<path d="M471.0 93.7L527.5 159.8" stroke-width="1.0"/>
<path d="M463.5 105.4L521.5 167.5" stroke-width="1.0"/>
<path d="M471.0 93.7C470.5 93.6 468.7 93.0 467.8 93.1C466.9 93.3 466.0 94.5 465.7 94.7"/>
<path d="M499.5 116.8C502.8 115.8 511.8 113.1 518.0 111.5C524.2 109.9 533.1 107.8 536.5 107.3C539.9 106.8 537.9 107.7 538.3 108.8C538.6 109.9 538.6 112.2 538.6 114.0C538.6 115.8 538.4 118.4 538.0 119.5C537.6 120.6 539.8 119.8 536.5 120.8C533.2 121.8 524.0 124.1 518.0 125.5C512.0 126.9 503.8 128.9 500.5 129.2C497.2 129.4 498.5 128.4 498.0 127.0C497.5 125.6 497.3 122.6 497.3 121.0C497.3 119.4 497.6 118.2 498.0 117.5C498.4 116.8 496.2 117.8 499.5 116.8Z" fill="#dedede"/>
<path d="M524.9 105.7C526.4 105.0 530.9 102.2 534.1 101.5C537.3 100.7 542.5 101.2 544.2 101.2" stroke-width="1.4"/>
<path d="M548.4 101.8L542.5 99.0L542.9 104.5Z" fill="#111" stroke-width="0.5" stroke="#111"/>
<circle cx="551.8" cy="116.6" r="8.7" fill="#111" stroke="none"/>
<path d="M548.9 113.9L551.9 111.5L553.4 111.5L553.4 122.1L551.2 122.1L551.2 114.6L549.6 115.7Z" fill="#fff" stroke="none"/>
<circle cx="451.8" cy="143.5" r="8.6" fill="#111" stroke="none"/>
<text x="451.6" y="148.1" font-family="Liberation Sans" font-weight="bold" font-size="14.5" fill="#fff" stroke="none" text-anchor="middle">2</text>
<path d="M473.7 143.3L459.7 156.0" stroke-width="1.4"/>
<path d="M456.3 158.7L458.3 152.7L462.3 156.7Z" fill="#111" stroke-width="0.5" stroke="#111"/>
<path d="M389.0 87.0C392.8 87.9 405.0 90.9 411.7 92.3C418.3 93.8 423.9 94.1 429.0 95.7C434.1 97.2 437.7 100.2 442.3 101.7C447.0 103.1 453.2 103.6 457.0 104.3C460.8 105.1 463.7 106.0 465.0 106.3"/>
<path d="M455.7 101.2C455.8 99.6 457.2 95.7 458.0 94.2C458.9 92.7 459.4 92.4 460.8 92.3C462.2 92.3 465.2 93.1 466.4 94.0C467.7 95.0 468.1 96.4 468.3 97.9C468.4 99.4 468.1 101.9 467.3 103.1C466.6 104.3 465.3 105.1 463.6 105.2C461.9 105.4 458.4 104.7 457.1 104.0C455.8 103.3 455.5 102.8 455.7 101.2Z" fill="#fff"/>
<path d="M453.3 84.9C454.4 85.6 457.9 88.0 459.9 89.5C461.9 91.1 464.5 93.3 465.5 94.0"/>
<path d="M447.7 88.3C447.4 89.2 446.8 92.1 446.3 93.7C445.9 95.2 445.2 97.0 445.0 97.7"/>
<path d="M470.3 85.7C470.0 86.6 469.0 89.4 468.3 91.0C467.7 92.6 466.7 94.3 466.3 95.0"/>
<path d="M527.0 152.9C527.6 151.6 528.7 147.3 530.5 144.9C532.2 142.5 533.9 140.2 537.3 138.6C540.8 137.0 546.5 136.2 551.1 135.2C555.7 134.1 562.6 132.8 564.9 132.3"/>
<path d="M540.8 144.9C541.4 146.1 541.9 150.3 544.2 151.8C546.5 153.3 551.1 153.3 554.5 154.1C558.0 154.8 563.1 156.0 564.9 156.4"/>
<path d="M554.5 146.1L555.7 152.4"/>
<path d="M529.3 153.5C531.8 154.0 538.7 154.8 544.2 156.4C549.8 158.0 559.5 162.1 562.6 163.3"/>
<path d="M522.4 166.1C523.8 166.8 526.8 168.5 530.5 170.1C534.1 171.8 540.2 174.0 544.2 175.9C548.2 177.8 551.1 179.5 554.5 181.6C558.0 183.7 563.1 187.3 564.9 188.5"/>
<path d="M522.4 154.7C524.2 153.7 529.8 154.6 531.6 155.2C533.4 155.9 533.5 156.9 533.3 158.7C533.1 160.5 532.1 164.8 530.5 166.1C528.8 167.5 525.2 167.6 523.6 166.7C522.0 165.8 520.9 163.0 520.7 161.0C520.5 159.0 520.6 155.6 522.4 154.7Z" fill="#fff"/>
<path d="M544.2 161.0L540.2 170.7"/>
<path d="M572.1 463.5C575.2 460.6 586.5 455.7 593.3 452.0C600.1 448.3 609.3 443.0 613.0 441.3C616.7 439.6 614.9 440.9 615.7 441.8C616.4 442.7 617.1 443.5 617.7 446.5C618.3 449.5 619.4 455.6 619.3 459.9C619.1 464.2 618.4 469.0 616.9 472.5C615.5 476.0 613.4 479.0 610.6 481.1C607.9 483.3 603.3 484.9 600.4 485.4C597.5 485.9 596.3 485.7 593.3 484.3C590.3 482.9 585.5 479.7 582.3 477.2C579.2 474.7 576.1 471.6 574.4 469.3C572.7 467.1 568.9 466.4 572.1 463.5Z" fill="#fff"/>
<path d="M626.5 419.0C615.7 422.3 619.4 434.5 617.7 438.9C616.0 443.3 618.4 443.5 616.6 445.5C614.7 447.6 609.4 449.2 606.6 451.1C603.9 452.9 601.1 453.5 600.0 456.6C598.9 459.7 598.2 467.1 600.0 469.9C601.8 472.7 607.2 472.5 611.1 473.2C614.9 473.9 620.8 472.3 623.2 474.3C625.6 476.3 623.8 482.4 625.4 485.4C627.1 488.3 631.0 491.6 633.2 492.0C635.4 492.4 637.6 491.5 638.7 487.6C639.8 483.7 638.3 469.9 639.8 468.8C641.3 467.7 644.1 477.3 647.6 480.9C651.1 484.6 656.0 488.7 660.8 490.9C665.6 493.1 673.2 495.0 676.3 494.2C679.5 493.5 678.5 488.7 679.6 486.5C680.8 484.3 682.4 492.2 683.0 480.9C683.5 469.7 692.4 429.3 683.0 419.0C673.6 408.7 637.4 415.7 626.5 419.0Z" fill="#fff" stroke="none"/>
<path d="M626.5 419.0C625.8 420.7 623.6 425.6 622.1 429.0C620.6 432.3 618.6 436.1 617.7 438.9C616.8 441.7 616.8 444.4 616.6 445.5"/>
<path d="M651.4 419.0C651.0 421.2 650.2 429.0 648.7 432.3C647.1 435.6 644.6 437.2 642.0 438.9C639.5 440.7 637.4 441.7 633.2 442.8C628.9 443.9 621.0 444.2 616.6 445.5C612.2 446.9 609.2 449.3 606.6 451.1C604.1 452.8 602.0 455.2 601.1 456.1"/>
<path d="M638.7 429.0L644.2 434.5"/>
<path d="M600.0 469.9C601.8 470.4 606.5 473.4 611.1 473.2C615.7 473.0 622.1 470.4 627.7 468.8C633.2 467.1 638.9 464.4 644.2 463.2C649.6 462.0 653.3 461.6 659.7 461.6C666.2 461.6 679.1 463.0 683.0 463.2"/>
<path d="M602.2 456.1C604.1 454.7 608.9 453.0 611.1 454.2C613.2 455.4 614.4 460.8 614.9 463.2C615.5 465.7 615.4 467.5 614.4 468.8C613.4 470.1 611.0 470.9 608.8 471.0C606.7 471.1 603.1 470.8 601.7 469.3C600.2 467.9 599.9 464.4 600.0 462.1C600.1 459.9 600.4 457.4 602.2 456.1Z" fill="#fff"/>
<path d="M625.4 449.4C625.8 450.6 626.8 454.5 627.7 456.6C628.5 458.7 630.0 461.2 630.4 462.1"/>
<path d="M623.2 474.3C623.3 475.4 623.2 478.7 623.8 480.9C624.3 483.2 625.0 485.7 626.5 487.6C628.1 489.4 631.2 492.0 633.2 492.0C635.2 492.0 637.5 490.0 638.7 487.6C639.9 485.2 640.2 480.9 640.4 477.6C640.6 474.3 639.9 469.3 639.8 467.7"/>
<path d="M639.8 466.6C640.6 467.9 642.2 471.4 644.2 474.3C646.3 477.3 649.0 481.5 652.0 484.3C654.9 487.0 657.9 489.2 661.9 490.9C666.0 492.6 673.3 495.0 676.3 494.4C679.3 493.9 679.9 490.2 679.9 487.6C679.9 485.0 678.2 481.7 676.3 478.7C674.4 475.8 671.3 472.6 668.6 469.9C665.8 467.2 661.2 463.6 659.7 462.4"/>
<path d="M654.8 476.5L666.4 472.1"/>
<path d="M671.9 467.7L677.4 463.2"/>
<path d="M98.0 444.5C106.5 447.2 127.6 459.5 140.0 466.0C152.4 472.5 164.4 479.5 172.2 483.5C180.0 487.5 184.0 488.1 187.0 490.0C190.0 491.9 190.3 493.0 190.0 495.0C189.7 497.0 186.9 500.7 185.0 502.0C183.1 503.3 181.9 504.2 178.5 503.0C175.1 501.8 174.1 499.7 164.3 494.5C154.6 489.3 132.4 478.2 120.0 472.0C107.6 465.8 95.2 460.7 90.0 457.0C84.8 453.3 87.7 452.1 89.0 450.0C90.3 447.9 89.5 441.8 98.0 444.5Z" fill="#fff" stroke="none"/>
<clipPath id="clip3"><path d="M98.0 444.5C106.5 447.2 127.6 459.5 140.0 466.0C152.4 472.5 164.4 479.5 172.2 483.5C180.0 487.5 184.0 488.1 187.0 490.0C190.0 491.9 190.3 493.0 190.0 495.0C189.7 497.0 186.9 500.7 185.0 502.0C183.1 503.3 181.9 504.2 178.5 503.0C175.1 501.8 174.1 499.7 164.3 494.5C154.6 489.3 132.4 478.2 120.0 472.0C107.6 465.8 95.2 460.7 90.0 457.0C84.8 453.3 87.7 452.1 89.0 450.0C90.3 447.9 89.5 441.8 98.0 444.5Z"/></clipPath><g clip-path="url(#clip3)"><g transform="translate(-435.9,-2.7)"><clipPath id="scr4"><path d="M555.1 450.4C558.2 449.2 560.5 450.0 565.0 450.4C569.5 450.8 576.8 450.9 582.3 453.0C587.8 455.1 593.8 459.3 598.0 463.0C602.2 466.7 605.8 471.9 607.5 475.0C609.2 478.1 608.3 479.8 608.3 481.6C608.3 483.4 608.5 483.9 607.5 485.9C606.5 487.9 605.0 491.4 602.3 493.7C599.5 496.0 594.9 498.8 591.0 499.8C587.1 500.8 583.9 500.8 579.0 499.9C574.1 499.0 566.7 496.8 561.9 494.5C557.1 492.2 553.0 489.0 550.2 486.0C547.4 483.0 546.2 479.7 545.0 476.4C543.8 473.1 542.6 469.2 542.8 466.0C543.0 462.8 544.3 459.9 546.4 457.3C548.5 454.7 552.0 451.5 555.1 450.4Z"/></clipPath><path d="M555.1 450.4C558.2 449.2 560.5 450.0 565.0 450.4C569.5 450.8 576.8 450.9 582.3 453.0C587.8 455.1 593.8 459.3 598.0 463.0C602.2 466.7 605.8 471.9 607.5 475.0C609.2 478.1 608.3 479.8 608.3 481.6C608.3 483.4 608.5 483.9 607.5 485.9C606.5 487.9 605.0 491.4 602.3 493.7C599.5 496.0 594.9 498.8 591.0 499.8C587.1 500.8 583.9 500.8 579.0 499.9C574.1 499.0 566.7 496.8 561.9 494.5C557.1 492.2 553.0 489.0 550.2 486.0C547.4 483.0 546.2 479.7 545.0 476.4C543.8 473.1 542.6 469.2 542.8 466.0C543.0 462.8 544.3 459.9 546.4 457.3C548.5 454.7 552.0 451.5 555.1 450.4Z" fill="#d3e9f1" stroke="none"/><g clip-path="url(#scr4)"><rect x="540" y="440" width="12.4" height="70" fill="#fbfdfe" stroke="none"/><rect x="557.6" y="440" width="18" height="70" fill="#fdfefe" stroke="none"/></g><path d="M555.1 450.4C558.2 449.2 560.5 450.0 565.0 450.4C569.5 450.8 576.8 450.9 582.3 453.0C587.8 455.1 593.8 459.3 598.0 463.0C602.2 466.7 605.8 471.9 607.5 475.0C609.2 478.1 608.3 479.8 608.3 481.6C608.3 483.4 608.5 483.9 607.5 485.9C606.5 487.9 605.0 491.4 602.3 493.7C599.5 496.0 594.9 498.8 591.0 499.8C587.1 500.8 583.9 500.8 579.0 499.9C574.1 499.0 566.7 496.8 561.9 494.5C557.1 492.2 553.0 489.0 550.2 486.0C547.4 483.0 546.2 479.7 545.0 476.4C543.8 473.1 542.6 469.2 542.8 466.0C543.0 462.8 544.3 459.9 546.4 457.3C548.5 454.7 552.0 451.5 555.1 450.4Z" stroke-width="1.0"/></g></g>
<path d="M98.0 444.5C106.5 447.2 127.6 459.5 140.0 466.0C152.4 472.5 164.4 479.5 172.2 483.5C180.0 487.5 184.0 488.1 187.0 490.0C190.0 491.9 190.3 493.0 190.0 495.0C189.7 497.0 186.9 500.7 185.0 502.0C183.1 503.3 181.9 504.2 178.5 503.0C175.1 501.8 174.1 499.7 164.3 494.5C154.6 489.3 132.4 478.2 120.0 472.0C107.6 465.8 95.2 460.7 90.0 457.0C84.8 453.3 87.7 452.1 89.0 450.0C90.3 447.9 89.5 441.8 98.0 444.5Z" stroke-width="1.0"/>
<path d="M225.7 420.6C220.7 421.8 203.4 425.3 195.8 427.7C188.2 430.0 185.3 432.0 180.1 434.7C174.8 437.5 168.5 440.9 164.3 444.2C160.1 447.5 158.3 451.6 154.9 454.4C151.5 457.2 146.4 458.9 143.9 460.7C141.3 462.5 139.7 463.5 139.5 465.4C139.2 467.3 139.5 470.7 142.3 472.2C145.1 473.6 151.5 474.4 156.5 474.1C161.4 473.7 166.4 472.4 172.2 470.1C178.0 467.8 187.3 463.5 191.1 460.2C194.9 456.9 191.9 452.1 195.0 450.5C198.2 448.8 205.4 450.7 210.0 450.5C214.5 450.2 218.4 448.5 222.5 448.9C226.7 449.3 231.7 451.5 235.1 452.8C238.5 454.1 241.7 456.1 243.0 456.8L242 419L225 419Z" fill="#fff" stroke="none"/>
<path d="M225.7 420.6C220.7 421.8 203.4 425.3 195.8 427.7C188.2 430.0 185.3 432.0 180.1 434.7C174.8 437.5 168.5 440.9 164.3 444.2C160.1 447.5 158.3 451.6 154.9 454.4C151.5 457.2 146.4 458.9 143.9 460.7C141.3 462.5 139.7 463.5 139.5 465.4C139.2 467.3 139.5 470.7 142.3 472.2C145.1 473.6 151.5 474.4 156.5 474.1C161.4 473.7 166.4 472.4 172.2 470.1C178.0 467.8 187.3 463.5 191.1 460.2C194.9 456.9 194.4 452.1 195.0 450.5"/>
<path d="M195.0 450.5C197.5 450.5 205.4 450.7 210.0 450.5C214.5 450.2 218.4 448.5 222.5 448.9C226.7 449.3 231.7 451.5 235.1 452.8C238.5 454.1 241.7 456.1 243.0 456.8"/>
<path d="M140.7 464.6C141.5 463.1 146.4 457.9 148.6 456.8C150.7 455.6 152.8 456.6 153.6 457.5C154.4 458.5 154.9 460.8 153.3 462.3C151.7 463.7 146.0 465.8 143.9 466.2C141.8 466.6 139.9 466.2 140.7 464.6Z" fill="#fff"/>
<path d="M192.7 444.2L195.0 450.5"/>
<path d="M221.8 442.6L222.5 448.9"/>
<path d="M197.4 452.0C197.6 454.1 197.4 460.7 198.9 464.6C200.5 468.6 203.4 472.2 206.8 475.6C210.2 479.0 216.0 483.0 219.4 485.1C222.8 487.2 223.6 488.2 227.3 488.2C230.9 488.2 239.1 485.6 241.4 485.1"/>
<path d="M213.1 461.5C215.2 461.1 222.5 460.4 225.7 459.1C228.8 457.8 230.9 454.5 232.0 453.6"/>
<path d="M223.3 464.6C224.3 465.8 225.8 470.1 228.8 471.7C231.9 473.3 239.3 473.7 241.4 474.1"/>
<path d="M241.4 486.7C238.8 487.7 229.6 491.4 225.7 492.9C221.8 494.5 219.7 494.3 217.8 496.1C216.0 497.9 214.4 501.6 214.7 504.0C214.9 506.3 216.0 509.5 219.4 510.3C222.8 511.0 231.5 509.2 235.1 508.7C238.8 508.2 240.4 507.4 241.4 507.1" fill="#fff"/>
<path d="M219.4 500.0C221.5 499.6 229.4 496.5 232.0 497.7C234.6 498.8 234.6 505.5 235.1 507.1"/>
<path d="M353.4 474.5C355.2 473.7 356.2 470.1 361.8 472.0C367.4 473.9 379.7 482.2 387.0 485.9C394.3 489.7 402.3 492.8 405.7 494.8C409.1 496.8 407.8 496.5 407.4 498.1C407.0 499.7 404.6 503.5 403.4 504.6C402.1 505.8 403.9 506.4 399.6 505.1C395.3 503.8 385.2 500.0 377.7 496.7C370.1 493.4 358.9 488.2 354.3 485.5C349.8 482.8 351.0 481.8 350.4 480.3C349.8 478.9 350.3 477.9 350.8 476.9C351.3 475.9 351.6 475.3 353.4 474.5Z" fill="#fff" stroke="none"/>
<clipPath id="clip4"><path d="M353.4 474.5C355.2 473.7 356.2 470.1 361.8 472.0C367.4 473.9 379.7 482.2 387.0 485.9C394.3 489.7 402.3 492.8 405.7 494.8C409.1 496.8 407.8 496.5 407.4 498.1C407.0 499.7 404.6 503.5 403.4 504.6C402.1 505.8 403.9 506.4 399.6 505.1C395.3 503.8 385.2 500.0 377.7 496.7C370.1 493.4 358.9 488.2 354.3 485.5C349.8 482.8 351.0 481.8 350.4 480.3C349.8 478.9 350.3 477.9 350.8 476.9C351.3 475.9 351.6 475.3 353.4 474.5Z"/></clipPath><g clip-path="url(#clip4)"><g transform="translate(-219.7,-0.3)"><clipPath id="scr5"><path d="M555.1 450.4C558.2 449.2 560.5 450.0 565.0 450.4C569.5 450.8 576.8 450.9 582.3 453.0C587.8 455.1 593.8 459.3 598.0 463.0C602.2 466.7 605.8 471.9 607.5 475.0C609.2 478.1 608.3 479.8 608.3 481.6C608.3 483.4 608.5 483.9 607.5 485.9C606.5 487.9 605.0 491.4 602.3 493.7C599.5 496.0 594.9 498.8 591.0 499.8C587.1 500.8 583.9 500.8 579.0 499.9C574.1 499.0 566.7 496.8 561.9 494.5C557.1 492.2 553.0 489.0 550.2 486.0C547.4 483.0 546.2 479.7 545.0 476.4C543.8 473.1 542.6 469.2 542.8 466.0C543.0 462.8 544.3 459.9 546.4 457.3C548.5 454.7 552.0 451.5 555.1 450.4Z"/></clipPath><path d="M555.1 450.4C558.2 449.2 560.5 450.0 565.0 450.4C569.5 450.8 576.8 450.9 582.3 453.0C587.8 455.1 593.8 459.3 598.0 463.0C602.2 466.7 605.8 471.9 607.5 475.0C609.2 478.1 608.3 479.8 608.3 481.6C608.3 483.4 608.5 483.9 607.5 485.9C606.5 487.9 605.0 491.4 602.3 493.7C599.5 496.0 594.9 498.8 591.0 499.8C587.1 500.8 583.9 500.8 579.0 499.9C574.1 499.0 566.7 496.8 561.9 494.5C557.1 492.2 553.0 489.0 550.2 486.0C547.4 483.0 546.2 479.7 545.0 476.4C543.8 473.1 542.6 469.2 542.8 466.0C543.0 462.8 544.3 459.9 546.4 457.3C548.5 454.7 552.0 451.5 555.1 450.4Z" fill="#d3e9f1" stroke="none"/><g clip-path="url(#scr5)"><rect x="540" y="440" width="12.4" height="70" fill="#fbfdfe" stroke="none"/><rect x="557.6" y="440" width="18" height="70" fill="#fdfefe" stroke="none"/></g><path d="M555.1 450.4C558.2 449.2 560.5 450.0 565.0 450.4C569.5 450.8 576.8 450.9 582.3 453.0C587.8 455.1 593.8 459.3 598.0 463.0C602.2 466.7 605.8 471.9 607.5 475.0C609.2 478.1 608.3 479.8 608.3 481.6C608.3 483.4 608.5 483.9 607.5 485.9C606.5 487.9 605.0 491.4 602.3 493.7C599.5 496.0 594.9 498.8 591.0 499.8C587.1 500.8 583.9 500.8 579.0 499.9C574.1 499.0 566.7 496.8 561.9 494.5C557.1 492.2 553.0 489.0 550.2 486.0C547.4 483.0 546.2 479.7 545.0 476.4C543.8 473.1 542.6 469.2 542.8 466.0C543.0 462.8 544.3 459.9 546.4 457.3C548.5 454.7 552.0 451.5 555.1 450.4Z" stroke-width="1.0"/></g></g>
<path d="M353.4 474.5C355.2 473.7 356.2 470.1 361.8 472.0C367.4 473.9 379.7 482.2 387.0 485.9C394.3 489.7 402.3 492.8 405.7 494.8C409.1 496.8 407.8 496.5 407.4 498.1C407.0 499.7 404.6 503.5 403.4 504.6C402.1 505.8 403.9 506.4 399.6 505.1C395.3 503.8 385.2 500.0 377.7 496.7C370.1 493.4 358.9 488.2 354.3 485.5C349.8 482.8 351.0 481.8 350.4 480.3C349.8 478.9 350.3 477.9 350.8 476.9C351.3 475.9 351.6 475.3 353.4 474.5Z" stroke-width="1.0"/>
<path d="M373.0 459.3C371.1 459.7 364.3 460.6 361.8 461.7C359.3 462.8 358.5 464.6 358.1 465.9C357.6 467.2 358.1 468.5 359.0 469.6C359.9 470.7 362.9 471.8 363.7 472.2" stroke-width="1.0"/>
<path d="M353.4 474.5C355.1 474.1 360.1 473.4 363.7 472.4C367.3 471.4 373.0 469.3 374.9 468.7" stroke-width="1.0"/>
<path d="M401.6 419.0C400.9 419.8 399.8 421.5 396.9 423.7C394.0 425.9 387.3 429.8 384.3 432.4C381.4 435.0 380.2 436.0 379.3 439.5C378.4 442.9 376.7 451.0 378.8 452.8C381.0 454.7 386.8 451.0 392.2 450.5C397.6 449.9 404.3 450.1 411.1 449.7C417.9 449.3 427.1 449.3 433.1 448.1C439.1 446.9 444.9 443.5 447.3 442.6L463 419L400 419Z" fill="#fff" stroke="none"/>
<path d="M401.6 419.0C400.9 419.8 399.8 421.5 396.9 423.7C394.0 425.9 387.3 429.8 384.3 432.4C381.4 435.0 380.2 436.0 379.3 439.5C378.4 442.9 378.9 450.6 378.8 452.8"/>
<path d="M392.2 436.3C393.5 437.6 396.1 443.6 400.1 444.2C404.0 444.7 409.5 440.9 415.8 439.8C422.1 438.6 433.6 437.0 437.8 437.1C442.1 437.2 441.0 439.1 441.3 440.2C441.5 441.4 441.3 442.7 439.4 444.2C437.5 445.6 431.5 448.1 430.0 448.9"/>
<path d="M414.2 430.0L416.6 437.9"/>
<path d="M400.1 444.2L398.5 451.3"/>
<path d="M441.3 440.2L447.3 442.6"/>
<path d="M378.8 452.8C381.1 452.6 386.8 451.6 392.2 451.3C397.6 450.9 404.3 450.7 411.1 450.5C417.9 450.2 427.1 450.3 433.1 449.7C439.1 449.0 442.3 447.5 447.3 446.5C452.2 445.6 460.4 444.6 463.0 444.2L463.0 485.1C458.0 484.3 441.0 481.8 433.1 480.4C425.2 478.9 421.8 477.2 415.8 476.4C409.8 475.6 402.2 476.6 396.9 475.6C391.7 474.7 388.2 472.5 384.3 470.9C380.5 469.3 375.4 467.0 373.6 466.2Z" fill="#fff" stroke="none"/>
<path d="M378.8 452.8C381.1 452.6 386.8 451.6 392.2 451.3C397.6 450.9 404.8 450.6 411.1 450.5C417.4 450.3 426.8 450.2 430.0 450.2"/>
<path d="M373.6 466.2C375.4 467.0 380.5 469.3 384.3 470.9C388.2 472.5 391.7 474.7 396.9 475.6C402.2 476.6 409.8 475.6 415.8 476.4C421.8 477.2 425.5 478.9 433.1 480.4C440.7 481.9 456.7 484.6 461.4 485.4"/>
<path d="M374.1 456.8C376.0 455.1 382.1 454.1 384.3 454.4C386.6 454.7 387.1 456.0 387.5 458.3C387.9 460.7 388.0 466.7 386.7 468.6C385.4 470.4 381.9 470.0 379.6 469.3C377.3 468.7 373.9 466.7 373.0 464.6C372.1 462.5 372.2 458.5 374.1 456.8Z" fill="#fff"/>
<path d="M402.4 456.8L400.9 470.9"/>
<path d="M240.0 110.6C241.9 107.7 251.4 108.3 257.0 107.0C262.5 105.7 269.7 103.3 273.2 102.8C276.7 102.3 276.6 101.6 278.2 104.2C279.7 106.8 280.3 112.9 282.4 118.3C284.5 123.8 288.6 131.9 290.9 136.7C293.1 141.5 296.5 144.2 295.8 147.3C295.1 150.4 289.4 152.8 286.6 155.1C283.9 157.3 283.8 158.5 279.6 160.7C275.3 163.0 265.0 168.7 261.2 168.5C257.4 168.3 258.6 164.2 257.0 159.3C255.3 154.5 253.2 145.4 251.3 139.5C249.4 133.6 247.5 128.8 245.7 124.0C243.8 119.2 238.1 113.4 240.0 110.6Z" fill="#d8d8d8"/>
<path d="M272.8 142.4L274.6 150.8"/>
<path d="M282.4 86.5L278.2 95.7L276.5 105.6L273.9 111.3L274.6 119.7L266.9 129.6L267.6 138.1L275.3 142.4L293.7 142.4L295.1 146.6L314.9 150.8L331.9 156.5L346.0 161.4L346.0 83.0L285.2 83.0Z" fill="#fff" stroke="none"/>
<path d="M286.6 83.0C285.9 83.6 283.8 84.5 282.4 86.5C281.0 88.5 279.3 92.1 278.4 95.0C277.6 98.0 278.2 101.5 277.5 104.2C276.7 106.9 274.5 108.8 273.9 111.3C273.4 113.7 273.4 117.2 274.2 119.0C275.0 120.9 278.1 122.0 278.9 122.6"/>
<path d="M277.0 105.6C276.6 106.3 275.1 108.0 274.6 109.9C274.1 111.7 273.5 115.0 273.9 116.9C274.3 118.8 276.0 120.8 277.0 121.2C278.0 121.5 279.4 120.7 279.9 119.0C280.3 117.4 280.1 113.5 279.9 111.3C279.6 109.0 278.7 106.6 278.4 105.6" fill="#fff"/>
<path d="M290.9 98.5C292.5 99.0 299.7 99.3 300.8 101.4C301.8 103.5 297.8 109.6 297.2 111.3"/>
<path d="M297.2 111.3C300.0 109.4 308.7 103.0 313.5 100.0C318.3 96.9 321.2 94.0 326.2 92.9C331.3 91.8 340.9 93.5 343.9 93.6"/>
<path d="M324.8 85.8L338.9 92.9"/>
<path d="M279.6 122.6C281.0 121.6 282.9 119.3 288.1 116.9C293.2 114.6 303.4 111.3 310.7 108.4C318.0 105.6 326.3 102.2 331.9 100.0C337.4 97.7 341.9 95.8 343.9 95.0"/>
<path d="M267.6 138.8C268.9 139.4 270.5 142.2 275.3 142.4C280.2 142.5 289.2 141.7 296.5 139.5C303.8 137.4 313.3 132.5 319.2 129.6C325.0 126.8 327.6 124.0 331.9 122.6C336.1 121.2 342.5 121.4 344.6 121.2"/>
<path d="M268.3 128.2C270.0 126.6 274.5 124.5 276.7 124.0C279.0 123.5 280.9 124.0 281.7 125.4C282.4 126.8 282.4 130.3 281.3 132.5C280.1 134.6 276.9 137.2 274.6 138.1C272.3 139.1 268.9 138.8 267.6 138.1C266.2 137.4 266.5 135.5 266.6 133.9C266.7 132.2 266.6 129.9 268.3 128.2Z" fill="#fff"/>
<path d="M302.2 125.4L302.9 131.1"/>
<path d="M333.3 114.8L334.4 121.2"/>
<path d="M294.4 142.4C295.4 141.6 298.0 140.7 300.8 140.7C303.6 140.6 309.1 141.2 311.4 142.1C313.6 143.0 314.2 144.7 314.2 145.9C314.2 147.1 313.6 149.0 311.4 149.4C309.1 149.8 303.5 149.0 300.8 148.3C298.0 147.6 295.9 146.5 294.8 145.5C293.8 144.5 293.4 143.2 294.4 142.4Z" fill="#fff"/>
<path d="M295.8 147.3C299.0 147.9 308.9 149.3 314.9 150.8C320.9 152.4 326.9 154.8 331.9 156.5C336.8 158.1 342.5 160.0 344.6 160.7"/>
<path d="M313.5 129.6C315.9 129.9 323.4 130.2 327.6 131.1C331.9 131.9 336.1 133.9 338.9 134.6C341.8 135.3 343.7 135.2 344.6 135.3"/>
<path d="M337.5 135.3L336.1 140.2"/>
</svg>
</body></html>
